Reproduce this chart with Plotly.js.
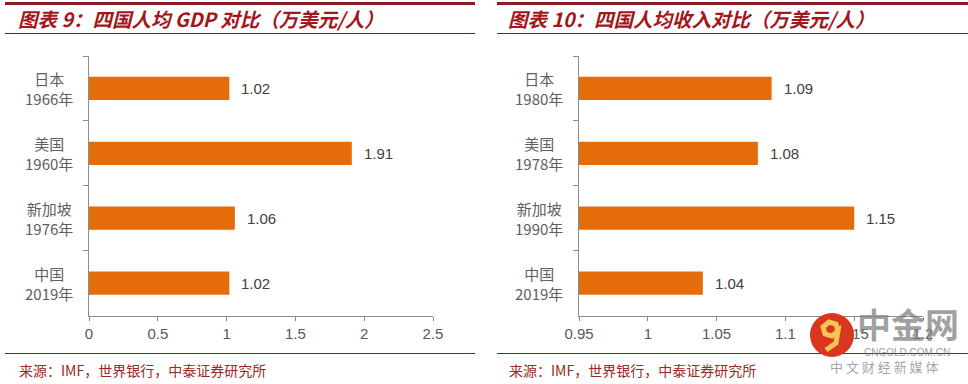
<!DOCTYPE html>
<html>
<head>
<meta charset="utf-8">
<script src="https://cdn.plot.ly/plotly-3.0.1.min.js"></script>
<style>html,body{margin:0;padding:0;background:#fff;}#chart{width:968px;height:384px;}</style>
</head>
<body>
<div id="chart"></div>
<script>
// ---- data ----
const gdpCategories = ["日本<br>1966年", "美国<br>1960年", "新加坡<br>1976年", "中国<br>2019年"];
const gdpValues = [1.02, 1.91, 1.06, 1.02];
const gdpTicks = [0, 0.5, 1, 1.5, 2, 2.5];
const gdpTickLabels = ["0", "0.5", "1", "1.5", "2", "2.5"];

const incomeCategories = ["日本<br>1980年", "美国<br>1978年", "新加坡<br>1990年", "中国<br>2019年"];
const incomeValues = [1.09, 1.08, 1.15, 1.04];
const incomeTicks = [0.95, 1, 1.05, 1.1, 1.15, 1.2];
const incomeTickLabels = ["0.95", "1", "1.05", "1.1", "1.15", "1.2"];

const titleLeft = "图表 9：四国人均 GDP 对比（万美元/人）";
const titleRight = "图表 10：四国人均收入对比（万美元/人）";
const sourceText = "来源：IMF，世界银行，中泰证券研究所";

// ---- styling helpers ----
const W = 968, H = 384;
const px = x => x / W;
const py = y => 1 - y / H;
const BAR = "#e46c0a";
const AXIS = "#8c8c8c";
const NUMFONT = "Liberation Sans, Arial, Noto Sans CJK SC, sans-serif";
const CJK = "Noto Sans CJK SC, Liberation Sans, sans-serif";
const RED = "#a3161c";

const yDomain = [py(315.5), py(56)];

const traces = [
  {type: "bar", orientation: "h", x: gdpValues, y: gdpCategories, xaxis: "x", yaxis: "y",
   marker: {color: BAR}, width: 0.36, hoverinfo: "none"},
  {type: "bar", orientation: "h", x: incomeValues, y: incomeCategories, xaxis: "x2", yaxis: "y2",
   marker: {color: BAR}, width: 0.36, hoverinfo: "none"}
];

function xAxis(domain, range, ticks, labels, anchor) {
  return {domain: domain, range: range, anchor: anchor, tickmode: "array", tickvals: ticks, ticktext: labels,
    showline: true, linecolor: AXIS, linewidth: 1.3, ticks: "outside", ticklen: 4, tickcolor: AXIS,
    showgrid: false, zeroline: false, tickfont: {family: NUMFONT, size: 15, color: "#595959"}, fixedrange: true};
}
function yAxis(anchor) {
  return {domain: yDomain, type: "category", range: [3.5, -0.5], anchor: anchor,
    showline: true, linecolor: AXIS, linewidth: 1.3, ticks: "outside", ticklen: 5, tickcolor: AXIS,
    tickson: "boundaries", showticklabels: false, showgrid: false, zeroline: false, fixedrange: true};
}

const annotations = [];
function addPanel(cats, vals, xr, yr) {
  cats.forEach((c, i) => {
    annotations.push({xref: xr + " domain", yref: yr, x: 0, y: c, xanchor: "right", yanchor: "middle",
      xshift: -14, text: c, align: "center", showarrow: false,
      font: {family: CJK, size: 15, color: "#606060"}});
    annotations.push({xref: xr, yref: yr, x: vals[i], y: c, xanchor: "left", yanchor: "middle",
      xshift: 10, text: vals[i].toFixed(2), showarrow: false,
      font: {family: NUMFONT, size: 15, color: "#404040"}});
  });
}
addPanel(gdpCategories, gdpValues, "x", "y");
addPanel(incomeCategories, incomeValues, "x2", "y2");

// titles and sources
[[16, titleLeft], [506, titleRight]].forEach(([x, t]) => {
  annotations.push({xref: "paper", yref: "paper", x: px(x), y: py(19), xanchor: "left", yanchor: "middle",
    text: t, showarrow: false, font: {family: CJK, size: 19.5, color: RED, weight: "bold", style: "italic"}});
});
[17, 507].forEach(x => {
  annotations.push({xref: "paper", yref: "paper", x: px(x), y: py(370), xanchor: "left", yanchor: "middle",
    text: sourceText, showarrow: false, font: {family: CJK, size: 14, color: "#9a2a22"}});
});

// watermark
annotations.push({xref: "paper", yref: "paper", x: px(908), y: py(323), xanchor: "center", yanchor: "middle",
  text: "<b>中金网</b>", showarrow: false, font: {family: CJK, size: 34, color: "rgba(130,130,130,0.75)"}});
annotations.push({xref: "paper", yref: "paper", x: px(907), y: py(352), xanchor: "center", yanchor: "middle",
  text: "CNGOLD.COM.CN", showarrow: false, font: {family: NUMFONT, size: 10, color: "rgba(130,130,130,0.8)"}});
annotations.push({xref: "paper", yref: "paper", x: px(884), y: py(366), xanchor: "center", yanchor: "middle",
  text: "中 文 财 经 新 媒 体", showarrow: false, font: {family: CJK, size: 13, color: "rgba(140,140,140,0.8)"}});

const shapes = [];
[[5, 475], [497, 968]].forEach(([a, b]) => {
  shapes.push({type: "line", xref: "paper", yref: "paper", x0: px(a), x1: px(b), y0: py(3.5), y1: py(3.5),
    line: {color: "#8e1b1f", width: 3}});
  shapes.push({type: "line", xref: "paper", yref: "paper", x0: px(a), x1: px(b), y0: py(33.5), y1: py(33.5),
    line: {color: "#5c2a2a", width: 1}});
  shapes.push({type: "line", xref: "paper", yref: "paper", x0: px(a), x1: px(b), y0: py(353.5), y1: py(353.5),
    line: {color: "#6e2525", width: 1}});
});
shapes.push({type: "circle", xref: "paper", yref: "paper", layer: "above",
  x0: px(810), x1: px(854), y0: py(357), y1: py(313), fillcolor: "#d9361f", line: {width: 0}});
// yellow swirl of the logo
const sw = [[838, 331], [836, 324], [829, 322], [823, 327], [825, 334], [832, 336], [838, 331], [836, 343], [826, 350]];
shapes.push({type: "path", xref: "paper", yref: "paper", layer: "above",
  path: "M" + sw.map(p => px(p[0]) + "," + py(p[1])).join(" L"),
  line: {color: "#f6c453", width: 5}});

const layout = {
  width: W, height: H, margin: {l: 0, r: 0, t: 0, b: 0},
  paper_bgcolor: "#ffffff", plot_bgcolor: "rgba(0,0,0,0)", showlegend: false,
  xaxis: xAxis([px(89), px(433)], [0, 2.5], gdpTicks, gdpTickLabels, "y"),
  yaxis: yAxis("x"),
  xaxis2: xAxis([px(579), px(923)], [0.95, 1.2], incomeTicks, incomeTickLabels, "y2"),
  yaxis2: yAxis("x2"),
  annotations: annotations, shapes: shapes
};

Plotly.newPlot("chart", traces, layout, {displayModeBar: false, staticPlot: true});
</script>
</body>
</html>
